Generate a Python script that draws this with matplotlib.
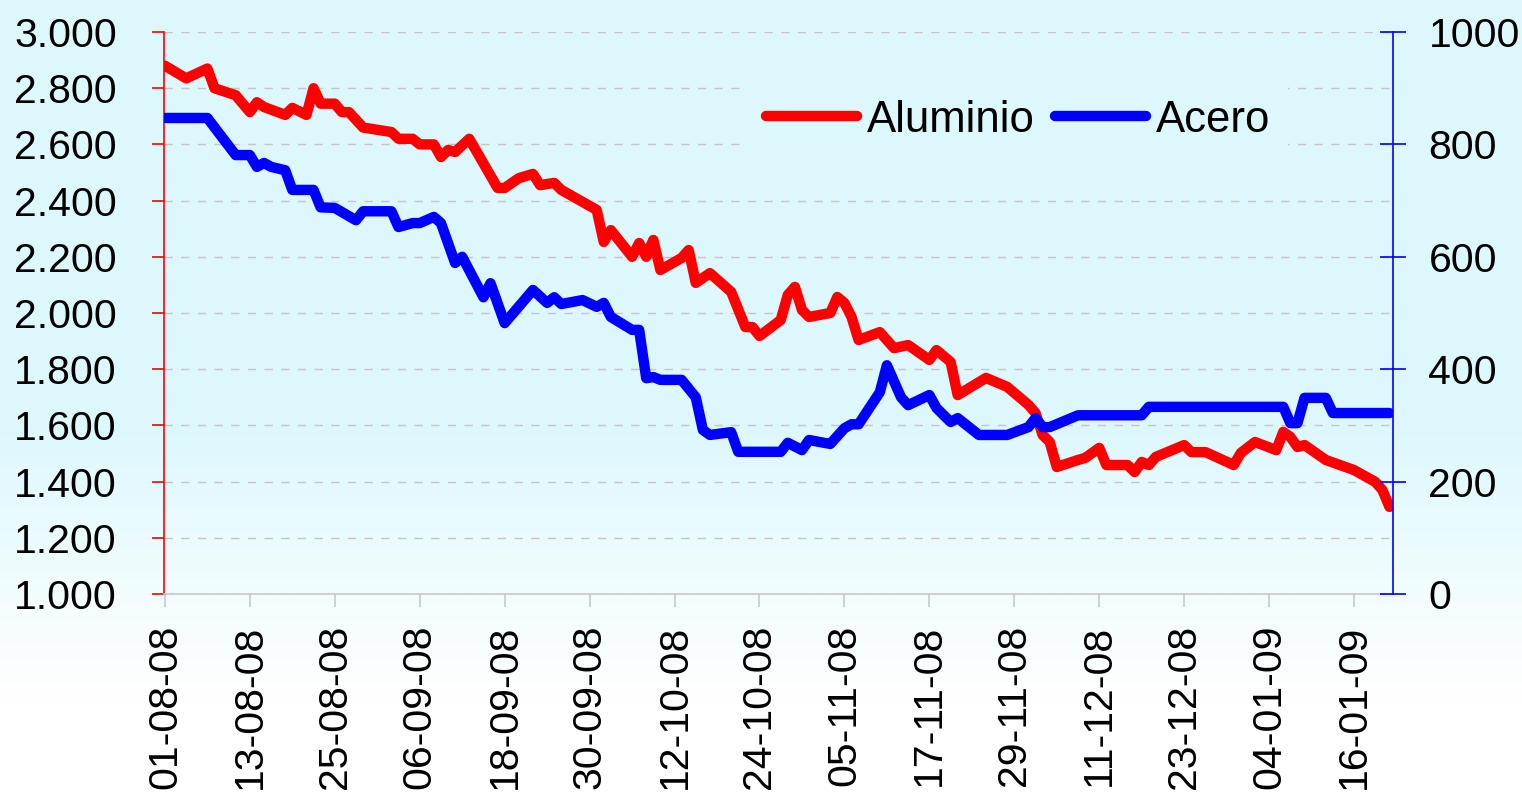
import numpy as np
import pandas as pd
import matplotlib
matplotlib.use('Agg')
import matplotlib.pyplot as plt
import matplotlib.dates as mdates
from matplotlib.ticker import FuncFormatter, MultipleLocator

plt.rcParams['font.family'] = ['Liberation Sans', 'DejaVu Sans']

# ---------------- datos (días desde 01-08-08) ----------------
inicio = pd.Timestamp('2008-08-01')

dias_alu = [0, 3, 6, 7, 10, 12, 13, 14, 17, 18, 20, 21, 22, 24, 25, 26, 28, 32, 33, 35,
            36, 38, 39, 40, 41, 43, 47, 48, 50, 52, 53, 55, 56, 61, 62, 63, 66, 67, 68, 69,
            70, 73, 74, 75, 77, 80, 82, 83, 84, 87, 88, 89, 90, 91, 94, 95, 96, 97, 98, 101,
            103, 105, 108, 109, 111, 112, 116, 119, 122, 123, 124, 125, 126, 129, 130, 132, 133, 136, 137, 138,
            139, 140, 144, 145, 147, 151, 152, 154, 157, 158, 159, 160, 161, 164, 166, 168, 171, 172, 173]
aluminio = [2880, 2835, 2870, 2800, 2775, 2715, 2750, 2733, 2705, 2730, 2705, 2800, 2745, 2745, 2715, 2715, 2660, 2644, 2620, 2620,
            2600, 2600, 2555, 2580, 2573, 2620, 2445, 2445, 2480, 2495, 2455, 2463, 2438, 2367, 2253, 2295, 2200, 2249, 2200, 2260,
            2153, 2196, 2224, 2107, 2142, 2075, 1950, 1950, 1918, 1975, 2064, 2093, 2011, 1986, 2000, 2057, 2036, 1986, 1904, 1932,
            1875, 1886, 1833, 1868, 1826, 1708, 1769, 1737, 1673, 1644, 1566, 1541, 1452, 1477, 1484, 1520, 1459, 1459, 1434, 1470,
            1459, 1488, 1530, 1505, 1505, 1459, 1502, 1541, 1512, 1577, 1559, 1523, 1530, 1477, 1459, 1441, 1399, 1370, 1310]

dias_ace = [0, 6, 10, 12, 13, 14, 15, 17, 18, 21, 22, 24, 27, 28, 32, 33, 35, 36, 38, 39,
            41, 42, 45, 46, 48, 52, 54, 55, 56, 59, 61, 62, 63, 66, 67, 68, 69, 70, 73, 75,
            76, 77, 80, 81, 87, 88, 90, 91, 94, 96, 97, 98, 101, 102, 104, 105, 108, 109, 111, 112,
            115, 119, 122, 123, 124, 125, 129, 138, 139, 158, 159, 160, 161, 164, 165, 173]
acero = [847, 847, 781, 781, 760, 767, 760, 754, 719, 719, 688, 687, 665, 681, 681, 653, 660, 660, 671, 660,
         589, 600, 528, 553, 482, 541, 518, 528, 516, 523, 511, 518, 493, 470, 470, 384, 386, 381, 381, 350,
         292, 283, 288, 253, 253, 269, 256, 274, 267, 295, 302, 302, 359, 407, 350, 336, 354, 331, 306, 313,
         283, 283, 297, 313, 297, 297, 318, 318, 333, 333, 304, 304, 349, 349, 322, 322]

fechas_alu = inicio + pd.to_timedelta(dias_alu, unit='D')
fechas_ace = inicio + pd.to_timedelta(dias_ace, unit='D')
ticks_x = pd.date_range('2008-08-01', periods=15, freq='12D')

ROJO = '#ff0000'
AZUL = '#0000ff'
FONDO = (0.863, 0.973, 0.992)

# ---------------- figura ----------------
fig = plt.figure(figsize=(15.22, 7.94), dpi=100)

# fondo degradado cian -> blanco
bg = fig.add_axes([0, 0, 1, 1], zorder=-10)
h = 794
t = np.clip((np.arange(h) - 420) / (700 - 420), 0, 1)
col = np.array(FONDO)[None, :] * (1 - t[:, None]) + np.ones(3)[None, :] * t[:, None]
grad = np.repeat(col[:, None, :], 4, axis=1)
bg.imshow(grad, aspect='auto', extent=[0, 1, 0, 1], origin='upper')
bg.axis('off')

ax = fig.add_axes([164/1522, 1 - 594/794, (1393 - 164)/1522, (594 - 32)/794])
ax.set_facecolor('none')
ax2 = ax.twinx()

l1, = ax.plot(fechas_alu, aluminio, color=ROJO, lw=7.5, solid_capstyle='round',
              solid_joinstyle='round', label='Aluminio')
l2, = ax2.plot(fechas_ace, acero, color=AZUL, lw=7.5, solid_capstyle='round',
               solid_joinstyle='round', label='Acero')

ax.set_ylim(1000, 3000)
ax2.set_ylim(0, 1000)
ax.set_xlim(inicio - pd.Timedelta(hours=3), inicio + pd.Timedelta(days=173.5))

ax.yaxis.set_major_locator(MultipleLocator(200))
ax2.yaxis.set_major_locator(MultipleLocator(200))
ax.yaxis.set_major_formatter(FuncFormatter(lambda v, p: f'{v/1000:.3f}'))
ax2.yaxis.set_major_formatter(FuncFormatter(lambda v, p: f'{v:.0f}'))

ax.set_xticks(ticks_x)
ax.xaxis.set_major_formatter(mdates.DateFormatter('%d-%m-%y'))

ax.grid(axis='y', color='#c8c4c4', ls=(0, (6, 6)), lw=1)
ax.set_axisbelow(True)

for s in ['top', 'right']:
    ax.spines[s].set_visible(False)
for s in ['top', 'left', 'bottom']:
    ax2.spines[s].set_visible(False)
ax.spines['left'].set_color(ROJO)
ax.spines['left'].set_linewidth(1.2)
ax.spines['bottom'].set_color('#c8c8c8')
ax.spines['bottom'].set_linewidth(1.2)
ax2.spines['right'].set_color(AZUL)
ax2.spines['right'].set_linewidth(1.2)

ax.tick_params(axis='y', direction='out', length=9, width=1.2, color=ROJO,
               labelsize=29.5, pad=25)
ax2.tick_params(axis='y', direction='inout', length=19, width=1.2, color=AZUL,
                labelsize=29.5, pad=16)
ax.tick_params(axis='x', direction='out', length=9, width=1.2, color='#c8c8c8',
               labelsize=29.5, pad=13, labelrotation=90)

leg = ax2.legend(handles=[l1, l2], ncol=2, loc='center', frameon=True,
                 bbox_to_anchor=(1018/1522, 1 - 120/794), bbox_transform=fig.transFigure,
                 fontsize=31.5, handlelength=2.1, handletextpad=0.22, columnspacing=0.45,
                 borderpad=0.4, fancybox=False)
leg.get_frame().set_facecolor(FONDO)
leg.get_frame().set_edgecolor('none')
leg.get_frame().set_alpha(1)

plt.savefig('out.png', dpi=100)
